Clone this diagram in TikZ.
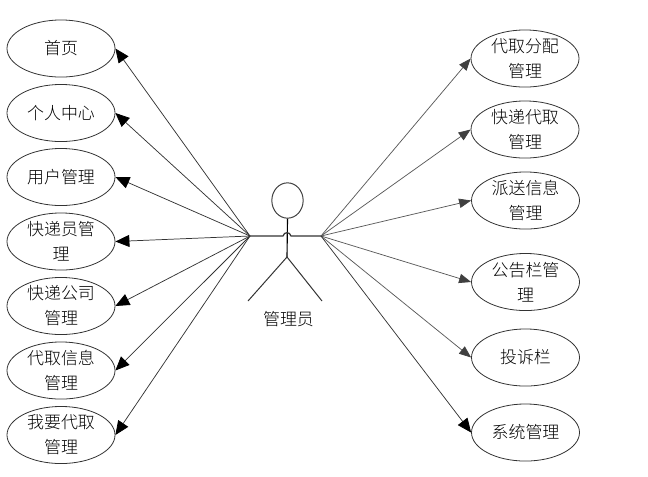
\documentclass[tikz,border=0pt]{standalone}
\usepackage{fontspec}
\setmainfont{Noto Sans CJK SC}
\usetikzlibrary{shapes.geometric,arrows.meta}
\newfontface\lightcjk{Noto Sans CJK SC Light}
\tikzset{
  uc/.style={draw=black!80,ellipse,line width=0.6pt,minimum width=81pt,minimum height=42.8pt,inner sep=0pt},
  lab/.style={align=center,font=\fontsize{12.7pt}{18.7pt}\selectfont\lightcjk,inner sep=0pt,text=black},
  bigarrow/.style={black!80,line width=0.55pt,-{Triangle[length=10.5pt,width=9pt,color=black]}},
  smallarrow/.style={black!65,line width=0.55pt,-{Triangle[length=9pt,width=7pt,color=black!75]}},
  limb/.style={black!80,line width=0.75pt}
}
\newcommand{\ucnode}[4]{\node[uc] (#1) at (#2,#3) {}; \node[lab] (#1t) at (#2,#3) {#4};}
\begin{document}
\begin{tikzpicture}[x=0.75pt,y=-0.75pt]
\useasboundingbox (0,0) rectangle (648,476);
\ucnode{a1}{61}{48.5}{首页}
\ucnode{a2}{61}{113}{个人中心}
\ucnode{a3}{61}{177}{用户管理}
\ucnode{a4}{61}{241.5}{快递员管\\理}
\ucnode{a5}{61}{306}{快递公司\\管理}
\ucnode{a6}{61}{370.5}{代取信息\\管理}
\ucnode{a7}{61}{435}{我要代取\\管理}
\ucnode{b1}{525}{58.5}{代取分配\\管理}
\ucnode{b2}{525}{129.5}{快递代取\\管理}
\ucnode{b3}{525.5}{200.5}{派送信息\\管理}
\ucnode{b4}{525.5}{282}{公告栏管\\理}
\ucnode{b5}{525.5}{357.5}{投诉栏}
\ucnode{b6}{525.5}{432.5}{系统管理}
\node[draw=black!75,ellipse,line width=0.75pt,minimum width=23.5pt,minimum height=26.5pt,inner sep=0pt] (head) at (287.5,200.5) {};
\coordinate (hubL) at (250,236);
\coordinate (hubR) at (321,236);
\coordinate (hip) at (287,257);
\coordinate (footL) at (248,301);
\coordinate (footR) at (322,301);
\node[lab] (actor) at (288.5,319.5) {管理员};
\draw[black,line width=0.85pt] (head.south) -- (hip);
\draw[limb,line width=0.9pt] (hubL) -- (283,236) .. controls (284,231.5) and (290,231.5) .. (291,236) -- (hubR);
\draw[limb] (footL) -- (hip) -- (footR);
\foreach \n in {a1,a2,a3,a4,a5,a6,a7}{\draw[bigarrow] (hubL) -- (\n.east);}
\foreach \n in {b1,b2,b3,b4,b5}{\draw[smallarrow] (hubR) -- (\n.west);}
\draw[bigarrow] (hubR) -- (b6.west);
\end{tikzpicture}
\end{document}
